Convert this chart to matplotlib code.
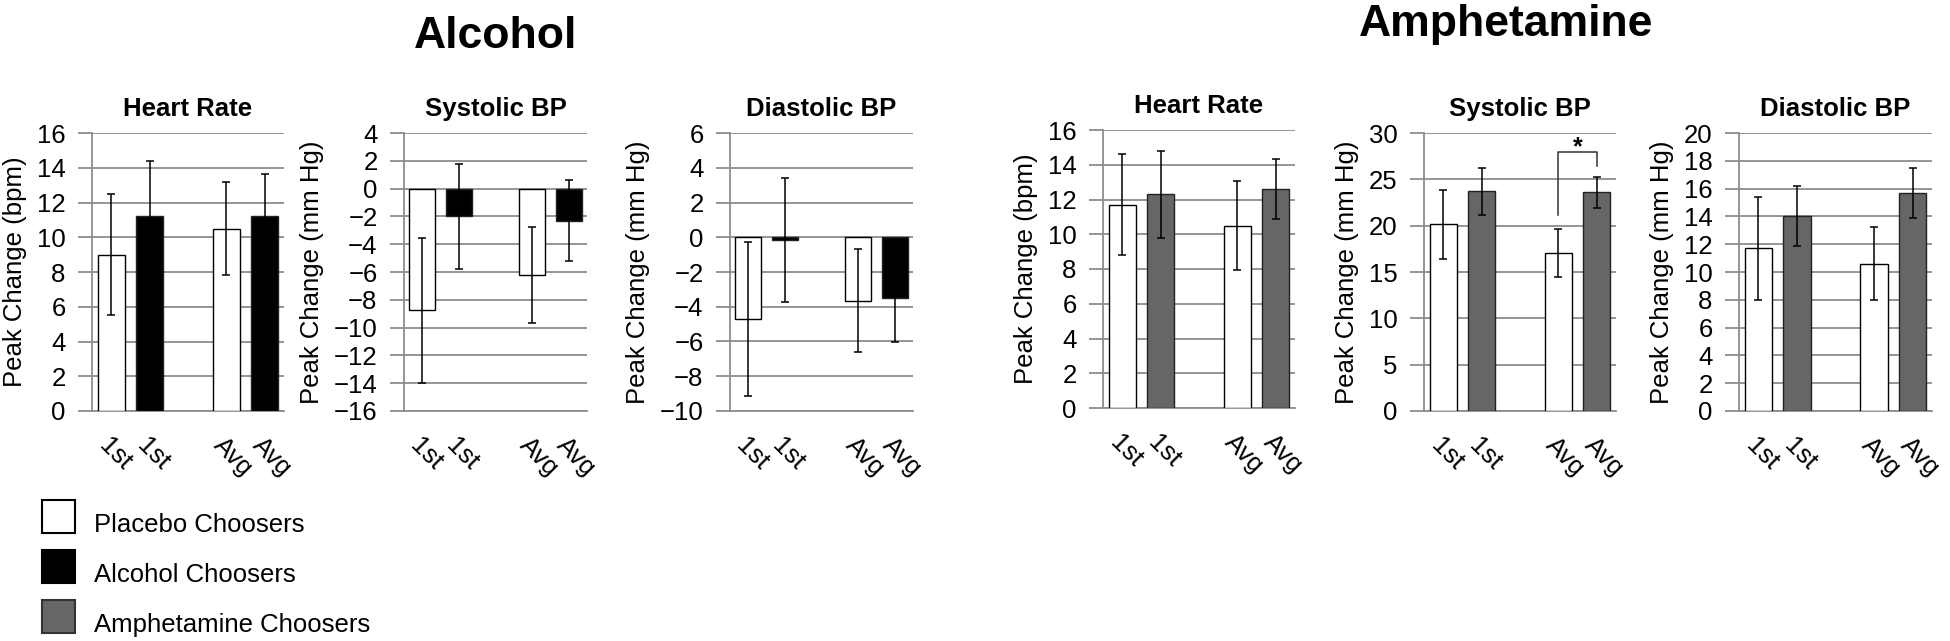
import matplotlib
matplotlib.use("Agg")
import matplotlib.pyplot as plt
from matplotlib.patches import Rectangle

plt.rcParams['font.family'] = ['Liberation Sans', 'DejaVu Sans']

# ---------------- data ----------------
tick_labels = ['1st', '1st', 'Avg', 'Avg']
placebo_pos = [0, 3]
drug_pos = [1, 4]

panel_titles = ['Heart Rate', 'Systolic BP', 'Diastolic BP',
                'Heart Rate', 'Systolic BP', 'Diastolic BP']
ylabels = ['Peak Change (bpm)', 'Peak Change (mm Hg)', 'Peak Change (mm Hg)',
           'Peak Change (bpm)', 'Peak Change (mm Hg)', 'Peak Change (mm Hg)']

# Alcohol study
alc_hr_placebo = [9.0, 10.5]
alc_hr_placebo_err = [3.5, 2.7]
alc_hr_drug = [11.2, 11.25]
alc_hr_drug_err = [3.2, 2.4]

alc_sbp_placebo = [-8.75, -6.2]
alc_sbp_placebo_err = [5.2, 3.45]
alc_sbp_drug = [-2.0, -2.3]
alc_sbp_drug_err = [3.75, 2.9]

alc_dbp_placebo = [-4.7, -3.65]
alc_dbp_placebo_err = [4.45, 2.95]
alc_dbp_drug = [-0.15, -3.5]
alc_dbp_drug_err = [3.55, 2.55]

# Amphetamine study
amp_hr_placebo = [11.7, 10.5]
amp_hr_placebo_err = [2.9, 2.55]
amp_hr_drug = [12.3, 12.6]
amp_hr_drug_err = [2.5, 1.75]

amp_sbp_placebo = [20.15, 17.05]
amp_sbp_placebo_err = [3.7, 2.55]
amp_sbp_drug = [23.7, 23.6]
amp_sbp_drug_err = [2.55, 1.7]

amp_dbp_placebo = [11.7, 10.6]
amp_dbp_placebo_err = [3.7, 2.65]
amp_dbp_drug = [14.05, 15.65]
amp_dbp_drug_err = [2.15, 1.8]

y_limits = [(0, 16), (-16, 4), (-10, 6), (0, 16), (0, 30), (0, 20)]
y_steps = [2, 2, 2, 2, 5, 2]

# significance bracket (Amphetamine systolic, Avg)
sig_left_y = 21.2
sig_top_y = 28.0
sig_right_y = 26.4
sig_text = '*'

legend_labels = ['Placebo Choosers', 'Alcohol Choosers', 'Amphetamine Choosers']

# ---------------- style ----------------
WHITE = '#ffffff'
BLACK = '#000000'
GRAY = '#666666'
GRID = '#8c8c8c'
legend_colors = [WHITE, BLACK, GRAY]
legend_edges = [BLACK, BLACK, '#333333']

W, H = 1950, 641
fig = plt.figure(figsize=(W / 100, H / 100), dpi=100)

# axes rectangles in pixels: (left, top, right, bottom)
rects_px = [(92, 133, 284, 411), (404, 133, 587, 411), (730, 133, 913, 411),
            (1103, 130, 1295, 408), (1424, 133, 1616, 411), (1739, 133, 1932, 411)]

panels = [
    (alc_hr_placebo, alc_hr_placebo_err, alc_hr_drug, alc_hr_drug_err, BLACK),
    (alc_sbp_placebo, alc_sbp_placebo_err, alc_sbp_drug, alc_sbp_drug_err, BLACK),
    (alc_dbp_placebo, alc_dbp_placebo_err, alc_dbp_drug, alc_dbp_drug_err, BLACK),
    (amp_hr_placebo, amp_hr_placebo_err, amp_hr_drug, amp_hr_drug_err, GRAY),
    (amp_sbp_placebo, amp_sbp_placebo_err, amp_sbp_drug, amp_sbp_drug_err, GRAY),
    (amp_dbp_placebo, amp_dbp_placebo_err, amp_dbp_drug, amp_dbp_drug_err, GRAY),
]

FS = 18.5
bar_w = 0.71
axes = []
for i, (rect, pdata) in enumerate(zip(rects_px, panels)):
    l, t, r, b = rect
    ax = fig.add_axes([l / W, 1 - b / H, (r - l) / W, (b - t) / H])
    axes.append(ax)
    pv, pe, dv, de, dcol = pdata
    ax.bar(placebo_pos, pv, width=bar_w, color=WHITE, edgecolor=BLACK,
           linewidth=1.0, zorder=3)
    ax.bar(drug_pos, dv, width=bar_w, color=dcol, edgecolor='#222222',
           linewidth=1.0, zorder=3)
    ax.errorbar(placebo_pos, pv, yerr=pe, fmt='none', ecolor=BLACK,
                elinewidth=1.1, capsize=3, capthick=1.1, zorder=4)
    ax.errorbar(drug_pos, dv, yerr=de, fmt='none', ecolor=BLACK,
                elinewidth=1.1, capsize=3, capthick=1.1, zorder=4)

    lo, hi = y_limits[i]
    ax.set_ylim(lo, hi)
    ax.set_yticks(range(lo, hi + 1, y_steps[i]))
    ax.set_xlim(-0.5, 4.5)
    ax.set_xticks(placebo_pos[:1] + drug_pos[:1] + placebo_pos[1:] + drug_pos[1:])
    ax.set_xticklabels(tick_labels, rotation=-45, ha='left', va='top',
                       rotation_mode='anchor', fontsize=FS)
    ax.tick_params(axis='x', length=0, pad=16)
    ax.tick_params(axis='y', length=10, width=1.3, color=GRID, labelsize=FS, pad=9)
    ax.yaxis.grid(True, color=GRID, linewidth=1.3, zorder=0)
    ax.set_axisbelow(True)
    for s in ['top', 'right']:
        ax.spines[s].set_visible(False)
    for s in ['left', 'bottom']:
        ax.spines[s].set_color(GRID)
        ax.spines[s].set_linewidth(1.3)
    ax.set_title(panel_titles[i], fontsize=FS, fontweight='bold', pad=12)
    ax.set_ylabel(ylabels[i], fontsize=FS, labelpad=7)

# significance bracket
ax5 = axes[4]
xl, xr = placebo_pos[1], drug_pos[1]
ax5.plot([xl, xl, xr, xr], [sig_left_y, sig_top_y, sig_top_y, sig_right_y],
         color='#333333', linewidth=1.1, zorder=5, clip_on=False)
ax5.text((xl + xr) / 2, sig_top_y - 0.3, sig_text, ha='center', va='baseline',
         fontsize=18, fontweight='bold')

# group titles
fig.text(496 / W, 1 - 48 / H, 'Alcohol', ha='center', va='baseline',
         fontsize=32, fontweight='bold')
fig.text(1506 / W, 1 - 36 / H, 'Amphetamine', ha='center', va='baseline',
         fontsize=32, fontweight='bold')

# legend (square swatches + labels)
for k, (lab, fc, ec) in enumerate(zip(legend_labels, legend_colors, legend_edges)):
    top = 500 + 50 * k
    fig.patches.append(Rectangle((42 / W, 1 - (top + 33) / H), 33 / W, 33 / H,
                                 transform=fig.transFigure, facecolor=fc,
                                 edgecolor=ec, linewidth=1.5))
    fig.text(94 / W, 1 - (top + 32) / H, lab, ha='left', va='baseline',
             fontsize=FS)

fig.savefig('out.png', dpi=100)
